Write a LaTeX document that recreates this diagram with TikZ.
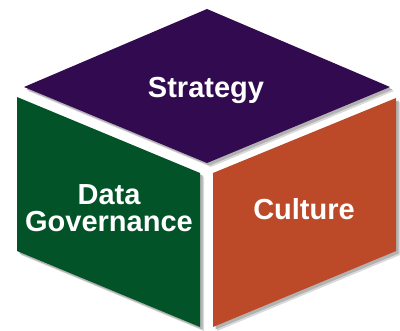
\documentclass[tikz,border=0pt]{standalone}
\usepackage{fontspec}
\setmainfont{Liberation Sans}
\definecolor{stratpurple}{RGB}{50,10,80}
\definecolor{govgreen}{RGB}{3,83,40}
\definecolor{cultorange}{RGB}{188,74,40}

\begin{document}
\begin{tikzpicture}[x=1pt,y=-1pt,
    facelabel/.style={text=white,font=\bfseries\fontsize{29}{27}\selectfont,align=center,anchor=base}]
\useasboundingbox (0,0) rectangle (400,331);
    % soft shadows behind the three faces
    \foreach \d/\c in {4/15,2.5/30} {
    \begin{scope}[shift={(\d,\d)}]
        \fill [black!\c] (207,9) -- (390,87) -- (207,163) -- (24,87) -- cycle;
        \fill [black!\c] (17,97) -- (200,173) -- (200,327) -- (17,251) -- cycle;
        \fill [black!\c] (213,173) -- (396,98) -- (396,251) -- (213,327) -- cycle;
    \end{scope}
    }
    % faces
    \fill [stratpurple] (207,9) -- (390,87) -- (207,163) -- (24,87) -- cycle;
    \fill [govgreen] (17,97) -- (200,173) -- (200,327) -- (17,251) -- cycle;
    \fill [cultorange] (213,173) -- (396,98) -- (396,251) -- (213,327) -- cycle;
    \node [facelabel] (strategy) at (206,98) {Strategy};
    \node [facelabel] (governance) at (109,232) {Data\\Governance};
    \node [facelabel] (culture) at (304,220) {Culture};
\end{tikzpicture}
\end{document}
